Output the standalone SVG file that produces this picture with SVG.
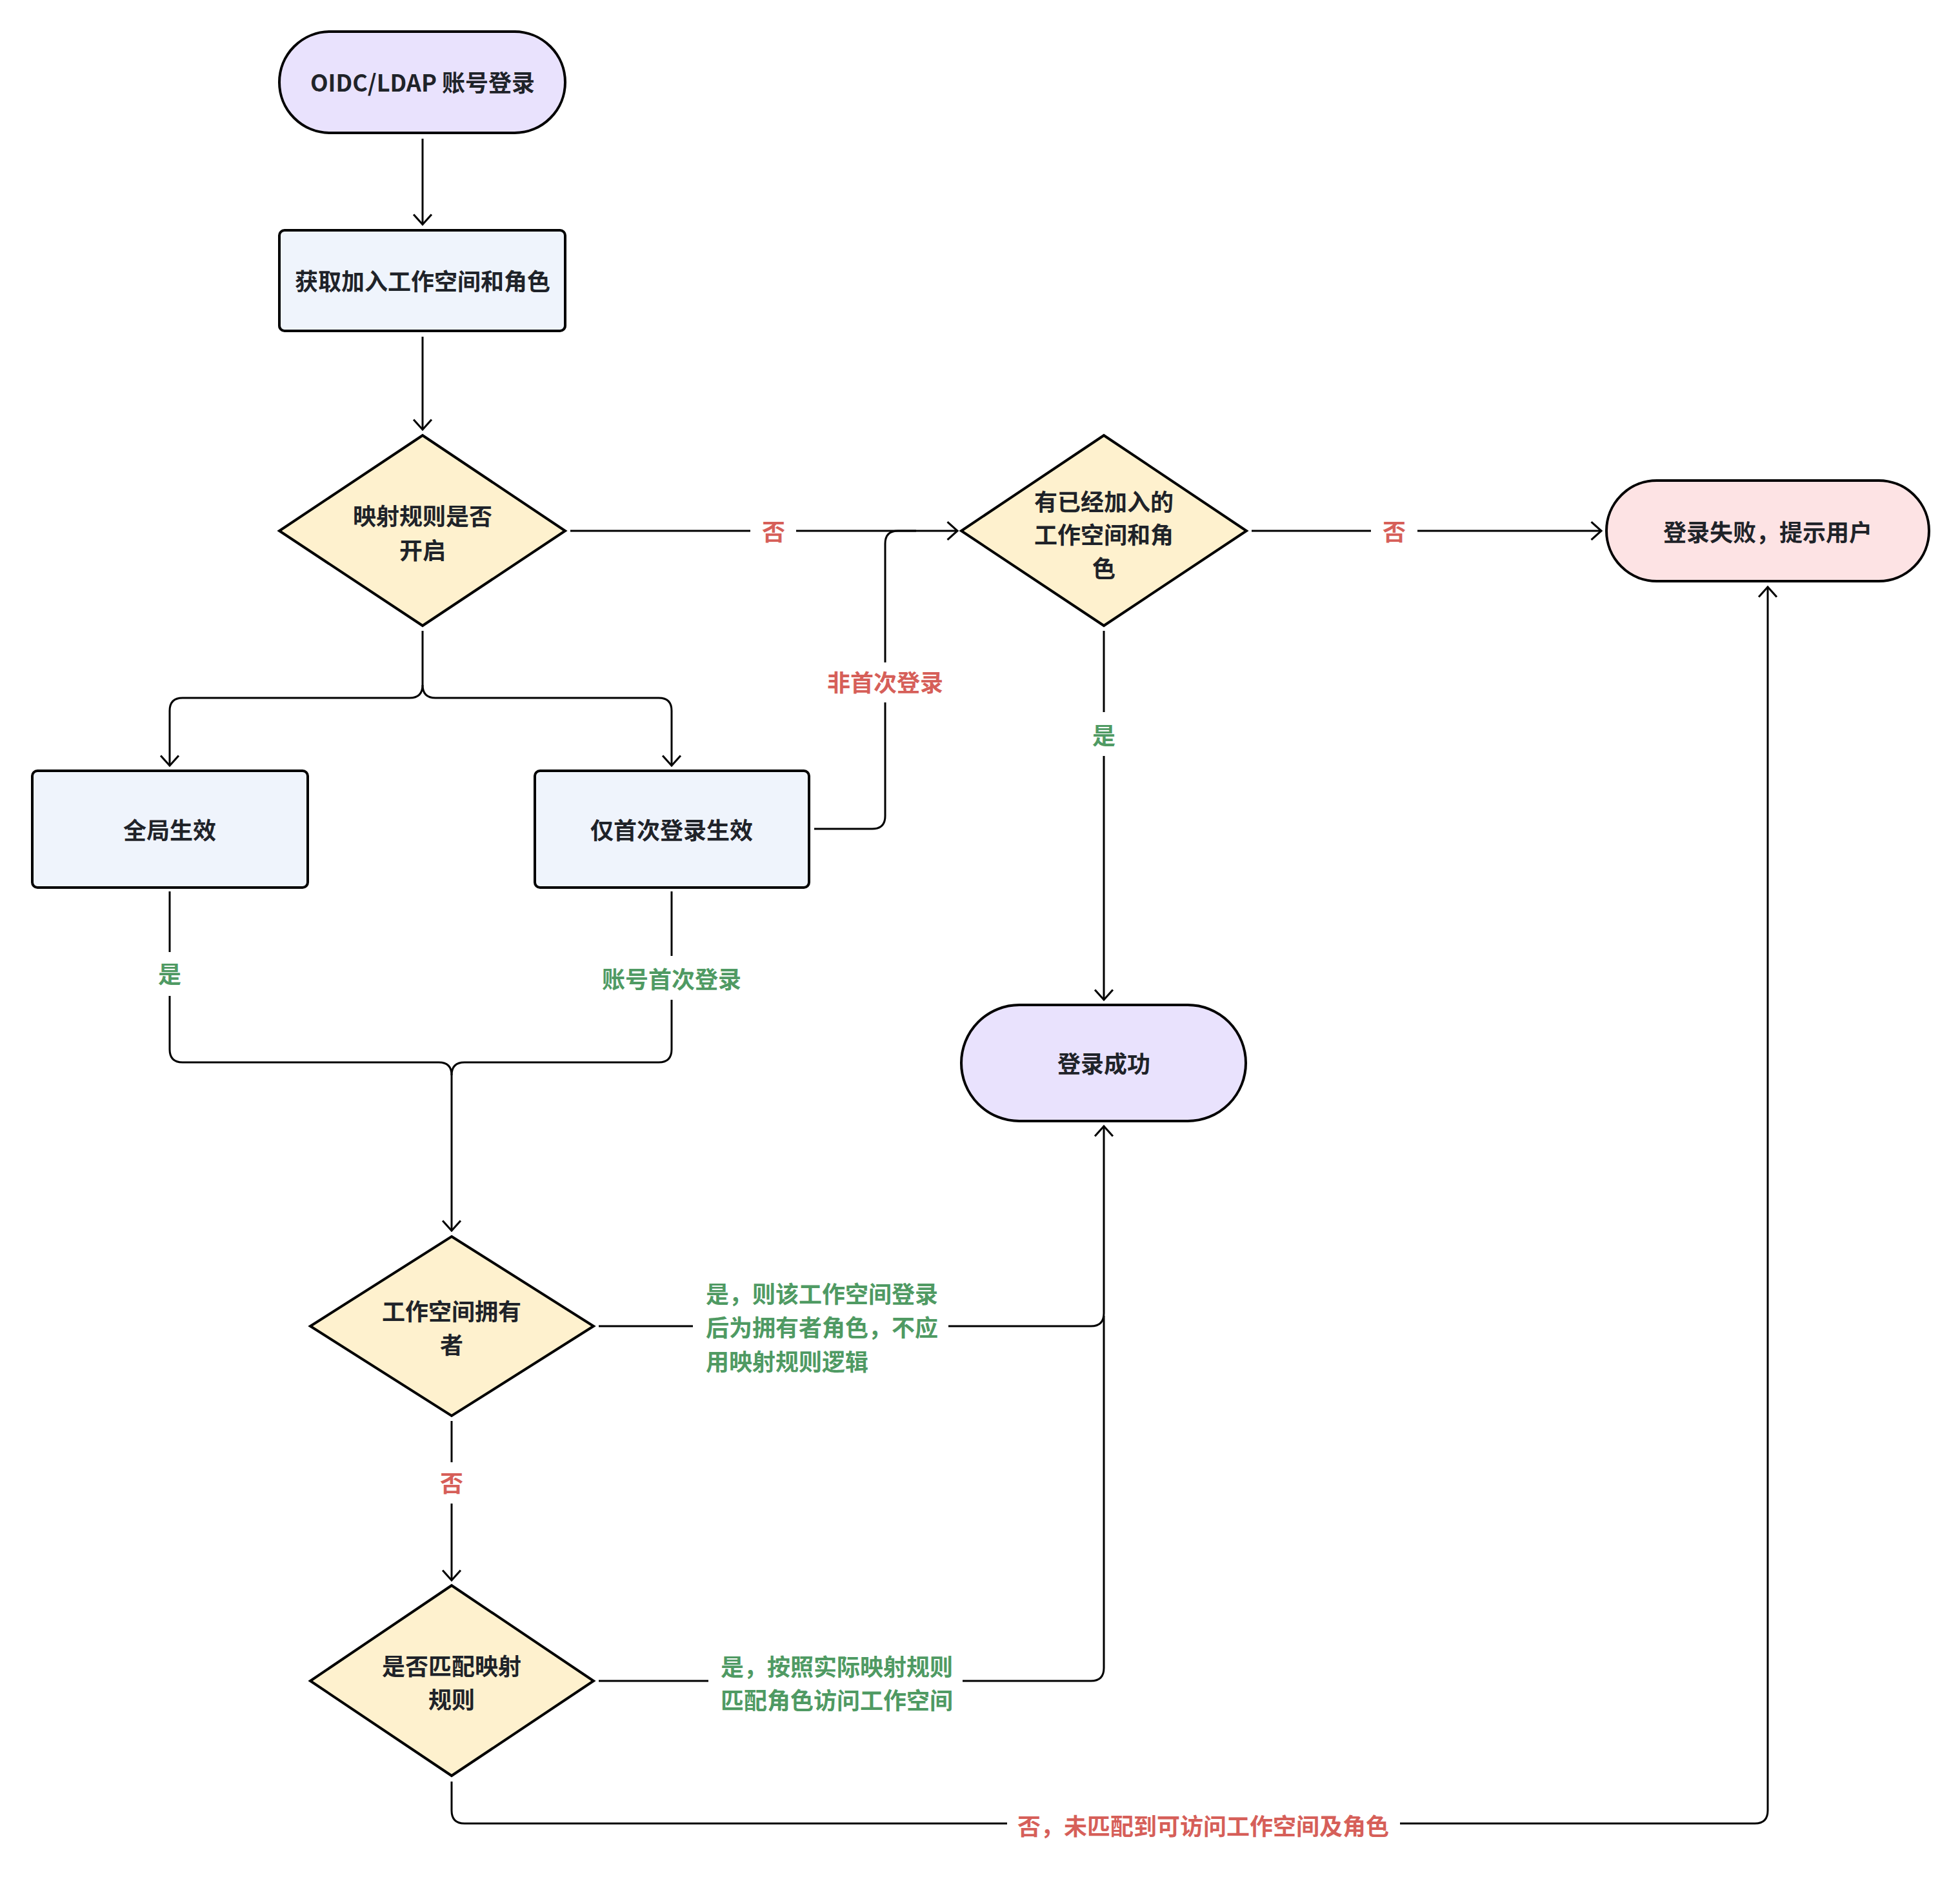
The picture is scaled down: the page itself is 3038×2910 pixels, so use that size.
<svg xmlns="http://www.w3.org/2000/svg" width="3038" height="2910" viewBox="0 0 3038 2910">
<style>
.node{stroke:#000;stroke-width:4;}
.term{fill:#E9E2FD;}
.proc{fill:#EFF4FC;}
.dec{fill:#FEF1CE;}
.fail{fill:#FDE3E4;}
.t{font-family:"Noto Sans CJK SC","Noto Sans",sans-serif;font-weight:700;font-size:36px;fill:#1F2329;text-anchor:middle;dominant-baseline:central;}
.lg{font-family:"Noto Sans CJK SC","Noto Sans",sans-serif;font-weight:700;font-size:36px;fill:#4F9A63;dominant-baseline:central;}
.lr{font-family:"Noto Sans CJK SC","Noto Sans",sans-serif;font-weight:700;font-size:36px;fill:#D65F59;dominant-baseline:central;}
.c{fill:none;stroke:#000;stroke-width:3;}
</style>
<defs>
<marker id="arr" markerUnits="userSpaceOnUse" markerWidth="32" markerHeight="32" viewBox="-2 -2 20 31" refX="15" refY="13.5" orient="auto" overflow="visible">
<path d="M0,0 L15,13.5 L0,27" fill="none" stroke="#000" stroke-width="3"/>
</marker>
</defs>
<rect width="3038" height="2910" fill="#FFFFFF"/>
<g id="connectors">
<path class="c" d="M655,215 V348" marker-end="url(#arr)"/>
<path class="c" d="M655,522 V666" marker-end="url(#arr)"/>
<path class="c" d="M884,823 H1163"/>
<path class="c" d="M1234,823 H1484" marker-end="url(#arr)"/>
<path class="c" d="M655,978 V1062 Q655,1082 635,1082 H283 Q263,1082 263,1102 V1187" marker-end="url(#arr)"/>
<path class="c" d="M655,1062 Q655,1082 675,1082 H1021 Q1041,1082 1041,1102 V1187" marker-end="url(#arr)"/>
<path class="c" d="M1262,1285 H1352 Q1372,1285 1372,1265 V1089"/>
<path class="c" d="M1372,1027 V843 Q1372,823 1392,823 H1420"/>
<path class="c" d="M1711,978 V1104"/>
<path class="c" d="M1711,1172 V1550" marker-end="url(#arr)"/>
<path class="c" d="M1940,823 H2125"/>
<path class="c" d="M2197,823 H2482" marker-end="url(#arr)"/>
<path class="c" d="M263,1382 V1476"/>
<path class="c" d="M263,1544 V1627 Q263,1647 283,1647 H680 Q700,1647 700,1667 V1908" marker-end="url(#arr)"/>
<path class="c" d="M1041,1382 V1482"/>
<path class="c" d="M1041,1550 V1627 Q1041,1647 1021,1647 H720 Q700,1647 700,1667"/>
<path class="c" d="M700,2203 V2267"/>
<path class="c" d="M700,2331 V2450" marker-end="url(#arr)"/>
<path class="c" d="M928,2056 H1074"/>
<path class="c" d="M1470,2056 H1691 Q1711,2056 1711,2036 V1746" marker-end="url(#arr)"/>
<path class="c" d="M928,2606 H1098"/>
<path class="c" d="M1492,2606 H1691 Q1711,2606 1711,2586 V2040"/>
<path class="c" d="M700,2762 V2807 Q700,2827 720,2827 H1561"/>
<path class="c" d="M2170,2827 H2720 Q2740,2827 2740,2807 V910" marker-end="url(#arr)"/>
<text class="lr" x="1199" y="822" text-anchor="middle">否</text>
<text class="lr" x="2161" y="822" text-anchor="middle">否</text>
<text class="lr" x="1372" y="1056" text-anchor="middle">非首次登录</text>
<text class="lg" x="1711" y="1138" text-anchor="middle">是</text>
<text class="lg" x="263" y="1508" text-anchor="middle">是</text>
<text class="lg" x="1041" y="1516" text-anchor="middle">账号首次登录</text>
<text class="lr" x="700" y="2297" text-anchor="middle">否</text>
<text class="lg" x="1094" y="2004">是，则该工作空间登录</text>
<text class="lg" x="1094" y="2056">后为拥有者角色，不应</text>
<text class="lg" x="1094" y="2109">用映射规则逻辑</text>
<text class="lg" x="1117" y="2582">是，按照实际映射规则</text>
<text class="lg" x="1117" y="2634">匹配角色访问工作空间</text>
<text class="lr" x="1865" y="2829" text-anchor="middle">否，未匹配到可访问工作空间及角色</text>
</g>
<g id="start">
<rect class="node term" x="433" y="49" width="443" height="157" rx="78.5"/>
<text class="t" x="655" y="126">OIDC/LDAP 账号登录</text>
</g>
<g id="fetch">
<rect class="node proc" x="433" y="357" width="443" height="156" rx="8"/>
<text class="t" x="655" y="434">获取加入工作空间和角色</text>
</g>
<g id="dec-rule">
<polygon class="node dec" points="655,675 876,823 655,970 433,823"/>
<text class="t" x="655" y="798">映射规则是否</text>
<text class="t" x="655" y="851">开启</text>
</g>
<g id="global">
<rect class="node proc" x="50" y="1195" width="427" height="181" rx="8"/>
<text class="t" x="263" y="1285">全局生效</text>
</g>
<g id="first-only">
<rect class="node proc" x="829" y="1195" width="425" height="181" rx="8"/>
<text class="t" x="1041" y="1285">仅首次登录生效</text>
</g>
<g id="dec-joined">
<polygon class="node dec" points="1711,675 1932,823 1711,970 1490,823"/>
<text class="t" x="1711" y="776">有已经加入的</text>
<text class="t" x="1711" y="827">工作空间和角</text>
<text class="t" x="1711" y="879">色</text>
</g>
<g id="fail">
<rect class="node fail" x="2490" y="745" width="500" height="156" rx="78"/>
<text class="t" x="2740" y="823">登录失败，提示用户</text>
</g>
<g id="success">
<rect class="node term" x="1490" y="1558" width="441" height="180" rx="90"/>
<text class="t" x="1711" y="1647">登录成功</text>
</g>
<g id="dec-owner">
<polygon class="node dec" points="700,1917 920,2056 700,2195 481,2056"/>
<text class="t" x="700" y="2031">工作空间拥有</text>
<text class="t" x="700" y="2083">者</text>
</g>
<g id="dec-match">
<polygon class="node dec" points="700,2458 920,2606 700,2753 481,2606"/>
<text class="t" x="700" y="2581">是否匹配映射</text>
<text class="t" x="700" y="2633">规则</text>
</g>
</svg>
